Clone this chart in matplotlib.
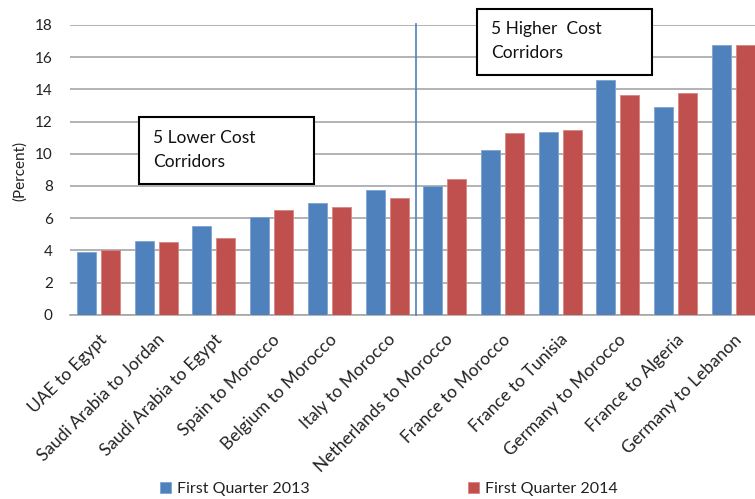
import numpy as np
import matplotlib.pyplot as plt
import matplotlib.patches as mpatches

plt.rcParams['font.family'] = ['Lato', 'DejaVu Sans']

corridors = ['UAE to Egypt', 'Saudi Arabia to Jordan', 'Saudi Arabia to Egypt',
             'Spain to Morocco', 'Belgium to Morocco', 'Italy to Morocco',
             'Netherlands to Morocco', 'France to Morocco', 'France to Tunisia',
             'Germany to Morocco', 'France to Algeria', 'Germany to Lebanon']
q1_2013 = [3.92, 4.58, 5.49, 6.07, 6.94, 7.75, 8.02, 10.22, 11.35, 14.60, 12.93, 16.76]
q1_2014 = [4.00, 4.50, 4.79, 6.51, 6.67, 7.25, 8.43, 11.31, 11.48, 13.67, 13.80, 16.76]
yticks = [0, 2, 4, 6, 8, 10, 12, 14, 16, 18]

BLUE = '#4F81BD'
RED = '#C0504D'
GRID = '#A6A6A6'

fig = plt.figure(figsize=(7.55, 4.99), dpi=100)
ax = fig.add_axes([0.0921, 0.3693, 0.9172, 0.5806])

x = np.arange(len(corridors))
w = 0.33
ax.bar(x - 0.205, q1_2013, w, color=BLUE, edgecolor='#7EA4D3', linewidth=0.6,
       label='First Quarter 2013', zorder=3)
ax.bar(x + 0.21, q1_2014, w, color=RED, edgecolor='#D98480', linewidth=0.6,
       label='First Quarter 2014', zorder=3)

# divider between the low and high cost groups
ax.plot([5.5, 5.5], [0, 18.05], color=BLUE, linewidth=1.2, zorder=4, clip_on=False)

ax.set_xlim(-0.5, len(corridors) - 0.5)
ax.set_ylim(0, 18)
ax.set_yticks(yticks)
ax.yaxis.grid(True, color=GRID, linewidth=1.2, zorder=0)
ax.set_axisbelow(True)
for s in ['left', 'right', 'top']:
    ax.spines[s].set_visible(False)
ax.spines['bottom'].set_color(GRID)
ax.spines['bottom'].set_linewidth(1.2)
ax.tick_params(axis='y', length=0, pad=12, labelsize=11, labelcolor='#222222')
ax.tick_params(axis='x', length=0, pad=12)
ax.set_xticks(x)
ax.set_xticklabels(corridors, rotation=45, ha='right', va='top',
                   rotation_mode='anchor', fontsize=12.5, color='#222222')
fig.text(0.026, 0.658, '(Percent)', rotation=90, ha='center', va='center',
         fontsize=11, color='#222222')

# annotation boxes
for (bx, by, bw, bh), (tx, ty), txt in [
        ((0.1841, 0.6313, 0.2314, 0.1349), (0.2026, 0.740), '5 Lower Cost\nCorridors'),
        ((0.6318, 0.8491, 0.2314, 0.1329), (0.6503, 0.958), '5 Higher  Cost\nCorridors')]:
    fig.patches.append(mpatches.Rectangle((bx, by), bw, bh, transform=fig.transFigure,
                                          facecolor='white', edgecolor='black',
                                          linewidth=1.5, zorder=5))
    fig.text(tx, ty, txt, ha='left', va='top', fontsize=12.5, linespacing=1.6,
             color='#111111', zorder=6)

leg = fig.legend(loc='center', bbox_to_anchor=(0.515, 0.02), ncol=2, frameon=False,
                 handlelength=0.7, handleheight=0.7, handletextpad=0.4,
                 columnspacing=9.9,
                 prop={'family': ['Liberation Sans Narrow', 'Lato'], 'size': 11.5})
for t in leg.get_texts():
    t.set_color('#222222')

fig.savefig('out.png', dpi=100)
